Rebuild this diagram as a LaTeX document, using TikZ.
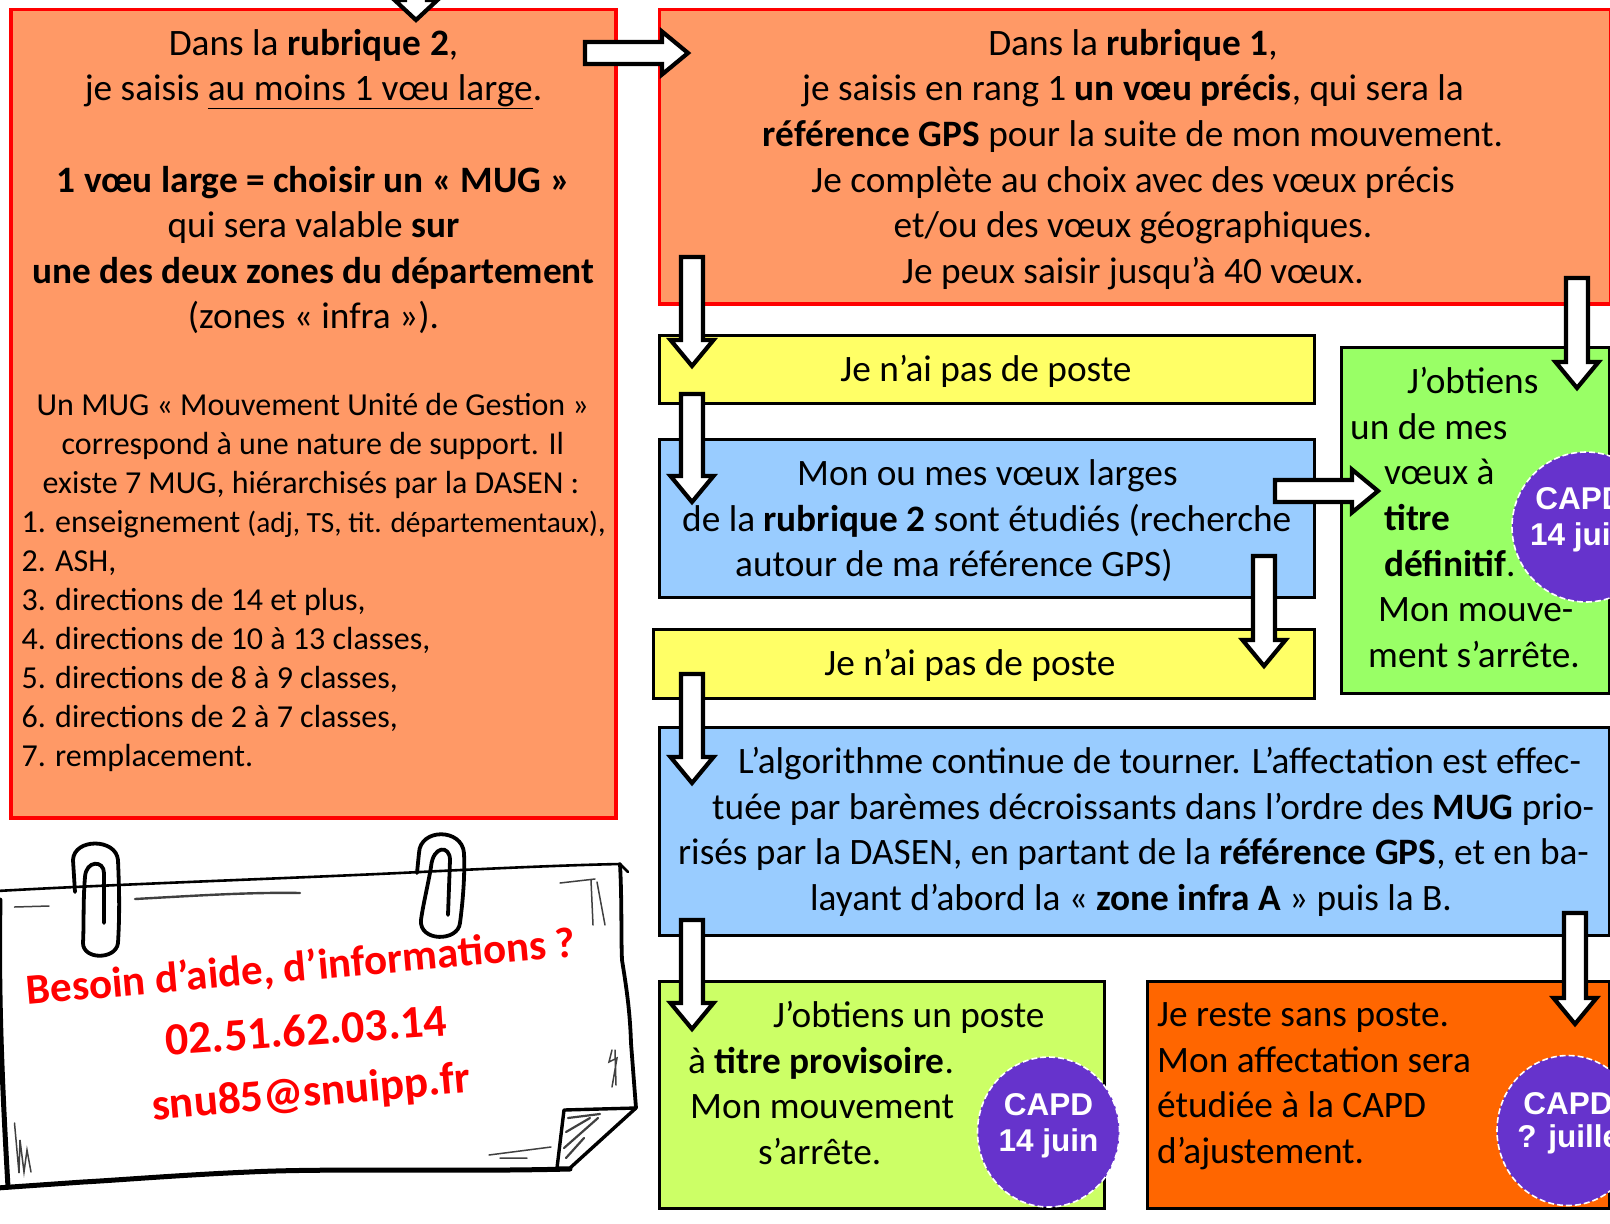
\documentclass[tikz,border=0pt]{standalone}
\usepackage{fontspec}
\setmainfont{Carlito}
\newfontfamily\capdfont{Liberation Sans}
\usetikzlibrary{calc}
\definecolor{cOrange}{HTML}{FF9966}
\definecolor{cYellow}{HTML}{FFFF66}
\definecolor{cBlue}{HTML}{99CCFF}
\definecolor{cGreen}{HTML}{99FF66}
\definecolor{cLime}{HTML}{CCFF66}
\definecolor{cDeep}{HTML}{FF6600}
\definecolor{cPurple}{HTML}{6633CC}
\definecolor{cRed}{HTML}{FF0000}
\tikzset{
  redbox/.style={draw=cRed,fill=cOrange,line width=3.5pt},
  blackbox/.style={draw=black,line width=3pt},
  bigtxt/.style={anchor=north,inner sep=0pt,yshift=31.92pt,font=\fontsize{37.3}{45.6}\selectfont},
  smalltxt/.style={anchor=north,inner sep=0pt,yshift=27.3pt,font=\fontsize{32}{39}\selectfont},
  blockarrow/.style={draw=black,fill=white,line width=4.2pt,miter limit=10},
  capd/.style={draw=white,fill=cPurple,line width=1.6pt,dash pattern=on 6pt off 3pt},
  capdtxt/.style={inner sep=0pt,align=center,text=white,font=\capdfont\bfseries\fontsize{31.5}{36}\selectfont},
  hand/.style={text=cRed,inner sep=0pt,font=\bfseries\fontsize{43}{45}\selectfont},
  sketch/.style={draw=black,line width=3.6pt,line cap=round,line join=round},
  hatch/.style={draw=black!75,line width=1.5pt,line cap=round},
  clipline/.style={draw=black,line width=3.8pt,line cap=round,line join=round}
}
\newcommand{\blockarrow}[3][26pt]{%
  \draw[blockarrow]
    ($(#2)!11pt!90:(#3)$) --
    ($(#3)!#1!(#2)!11pt!-90:(#2)$) --
    ($(#3)!#1!(#2)!21.5pt!-90:(#2)$) --
    (#3) --
    ($(#3)!#1!(#2)!21.5pt!90:(#2)$) --
    ($(#3)!#1!(#2)!11pt!90:(#2)$) --
    ($(#2)!11pt!-90:(#3)$) -- cycle;}
\newcommand{\listnum}[1]{#1.\kern2pt\ }
\begin{document}
\begin{tikzpicture}[x=1pt,y=-1pt]
\useasboundingbox (0,0) rectangle (1610,1224);
\clip (0,0) rectangle (1610,1224);
\fill[white] (0,0) rectangle (1610,1224);

% boxes
\draw[redbox] (11,9.5) rectangle (616,818);
\draw[redbox] (659.5,9.5) rectangle (1611,304);
\draw[blackbox,fill=cYellow] (659.5,335) rectangle (1314,403);
\draw[blackbox,fill=cBlue] (659.5,439) rectangle (1314,597);
\draw[blackbox,fill=cYellow] (653.5,629) rectangle (1314,698);
\draw[blackbox,fill=cGreen] (1341,347) rectangle (1609,693);
\draw[blackbox,fill=cBlue] (659.5,727) rectangle (1609,935);
\draw[blackbox,fill=cLime] (659.5,981) rectangle (1104,1208);
\draw[blackbox,fill=cDeep] (1147,981) rectangle (1609,1208);

% note paper
\fill[white]
  (-3,891) .. controls (120,884) and (300,878) .. (420,872)
  .. controls (500,868) and (570,865) .. (620,864)
  .. controls (622,900) and (621,940) .. (622,960)
  .. controls (626,985) and (630,1010) .. (631,1043)
  -- (636,1108) -- (564,1110) -- (570,1168)
  .. controls (450,1172) and (330,1168) .. (249,1172)
  .. controls (180,1175) and (120,1180) .. (83,1182)
  -- (-3,1188) -- cycle;
\draw[sketch,line width=2.6pt] (-3,891) .. controls (120,884) and (300,878) .. (420,872)
  .. controls (500,868) and (570,865) .. (620,864) -- (628,872);
\draw[sketch,line width=3.8pt] (620,864) .. controls (622,900) and (621,940) .. (622,960)
  .. controls (626,985) and (630,1010) .. (631,1043) -- (636,1108);
\draw[sketch,line width=5pt] (570,1169) .. controls (450,1172) and (330,1168) .. (249,1172)
  .. controls (180,1175) and (120,1180) .. (83,1182) -- (-3,1188);
\draw[sketch,line width=5pt] (0,900) .. controls (-2,1000) and (3,1100) .. (8,1187);
\draw[sketch,fill=white,line width=3.4pt] (636,1108) -- (564,1110) -- (557,1168) -- (570,1168) -- cycle;
\draw[hatch] (14.5,907) -- (49,906);
\draw[hatch,line width=2.4pt] (135,899) .. controls (190,896) and (250,892) .. (300,893);
\draw[hatch] (560,883) -- (595,879) (591,880) -- (593,925) (597,882) -- (605,925);
\draw[hatch] (612,1050) -- (609,1062) -- (617,1058) -- (612,1087) (615,1050) -- (616,1085);
\draw[hatch] (14.5,1123) -- (19,1173) -- (20,1140) -- (24,1172) -- (27,1150) -- (31,1172);
\draw[hatch] (489,1155) -- (551,1147) (500,1158) -- (527,1158);
\draw[hatch,line width=2.2pt] (568,1118) -- (600,1114) (566,1132) -- (590,1118) (564,1148) -- (598,1118) (566,1158) -- (584,1138);

% paper clips
\draw[clipline]
  (104,923) -- (104,873) .. controls (104,860) and (86,860) .. (85,877)
  .. controls (83,900) and (84,925) .. (83,943)
  .. controls (83,960) and (116,960) .. (118,943)
  .. controls (120,910) and (119,885) .. (118,860)
  .. controls (116,838) and (74,838) .. (73,860) -- (75,892);
\draw[clipline]
  (448,915) -- (450,860) .. controls (450,845) and (433,845) .. (431,867)
  .. controls (428,885) and (423,905) .. (421,920)
  .. controls (419,942) and (458,942) .. (460,923)
  .. controls (463,900) and (465,875) .. (464,853)
  .. controls (462,828) and (420,828) .. (419,853) -- (417,873);

% note text
\node[hand,rotate=5] (noteA) at (301,968) {Besoin d’aide, d’informations ?};
\node[hand,rotate=4,font=\bfseries\fontsize{46}{48}\selectfont] (noteB) at (306,1030) {02.51.62.03.14};
\node[hand,rotate=5,font=\bfseries\fontsize{45}{47}\selectfont] (noteC) at (311,1094) {snu85@snuipp.fr};

% big text
\node[bigtxt,align=center] (leftBig) at (313.5,55) {\strut Dans la \textbf{rubrique 2},\\
je saisis \underline{au moins 1 vœu large}.\\[45.6pt]
\textbf{1 vœu large = choisir un « MUG »}\\
qui sera valable \textbf{sur}\\
\textbf{une des deux zones du département}\\
(zones « infra »).};
\node[smalltxt,align=left,anchor=north west] (leftSmall) at (21.5,415) {\strut\hspace*{15pt}Un MUG « Mouvement Unité de Gestion »\\
\hspace*{40pt}correspond à une nature de support. Il\\
\hspace*{21pt}existe 7 MUG, hiérarchisés par la DASEN :\\
\listnum{1}enseignement {\fontsize{29.3}{39}\selectfont (adj, TS, tit. départementaux)},\\
\listnum{2}ASH,\\
\listnum{3}directions de 14 et plus,\\
\listnum{4}directions de 10 à 13 classes,\\
\listnum{5}directions de 8 à 9 classes,\\
\listnum{6}directions de 2 à 7 classes,\\
\listnum{7}remplacement.};
\node[bigtxt,align=center] (rightBig) at (1133,55) {\strut Dans la \textbf{rubrique 1},\\
je saisis en rang 1 \textbf{un vœu précis}, qui sera la\\
\textbf{référence GPS} pour la suite de mon mouvement.\\
Je complète au choix avec des vœux précis\\
et/ou des vœux géographiques.\\
Je peux saisir jusqu’à 40 vœux.};
\node[bigtxt] (yellowA) at (986,381) {\strut Je n’ai pas de poste};
\node[bigtxt] (yellowB) at (970,675) {\strut Je n’ai pas de poste};
\node[bigtxt,align=left,anchor=north west] (blueA) at (682,485.5) {\strut\hspace*{115pt}Mon ou mes vœux larges\\
de la \textbf{rubrique 2} sont étudiés (recherche\\
\hspace*{53pt}autour de ma référence GPS)};
\node[bigtxt,align=left,anchor=north west] (greenT) at (1350,393.5) {\strut\hspace*{57pt}J’obtiens\\
un de mes\\
\hspace*{34pt}vœux à\\
\hspace*{34pt}\textbf{titre}\\
\hspace*{34pt}\textbf{définitif}.\\
\hspace*{28pt}Mon mouve-\\
\hspace*{18pt}ment s’arrête.};
\node[bigtxt,align=left,anchor=north west] (blueB) at (678,773.5) {\strut\hspace*{60pt}L’algorithme continue de tourner. L’affectation est effec-\\
\hspace*{34pt}tuée par barèmes décroissants dans l’ordre des \textbf{MUG} prio-\\
risés par la DASEN, en partant de la \textbf{référence GPS}, et en ba-\\
\hspace*{132pt}layant d’abord la « \textbf{zone infra A} » puis la B.};
\node[bigtxt,align=left,anchor=north west] (limeT) at (688,1027.5) {\strut\hspace*{85pt}J’obtiens un poste\\
à \textbf{titre provisoire}.\\
\hspace*{2pt}Mon mouvement\\
\hspace*{70pt}s’arrête.};
\node[bigtxt,align=left,anchor=north west] (deepT) at (1157,1026.5) {\strut Je reste sans poste.\\
Mon affectation sera\\
étudiée à la CAPD\\
d’ajustement.};

% CAPD badges
\draw[capd] (1586,527) ellipse [x radius=74pt,y radius=75pt];
\node[capdtxt] (capdA) at (1580,520) {CAPD\\14 juin};
\draw[capd] (1048.5,1132) ellipse [x radius=71pt,y radius=75pt];
\node[capdtxt] (capdB) at (1048.5,1126) {CAPD\\14 juin};
\draw[capd] (1568,1130.5) ellipse [x radius=71pt,y radius=75pt];
\node[capdtxt] (capdC) at (1568,1123) {CAPD\\[-3pt]\hspace*{12pt}? juillet};

% block arrows
\coordinate (a1s) at (416,-40); \coordinate (a1t) at (416,20);
\coordinate (a2s) at (585,53); \coordinate (a2t) at (688,53);
\coordinate (a3s) at (692,257); \coordinate (a3t) at (692,366);
\coordinate (a4s) at (692,394); \coordinate (a4t) at (692,502);
\coordinate (a5s) at (1577,278); \coordinate (a5t) at (1577,388);
\coordinate (a6s) at (1275,491); \coordinate (a6t) at (1378,491);
\coordinate (a7s) at (1264,556); \coordinate (a7t) at (1264,666);
\coordinate (a8s) at (692,674); \coordinate (a8t) at (692,783);
\coordinate (a9s) at (692,920); \coordinate (a9t) at (692,1029);
\coordinate (a10s) at (1575,913); \coordinate (a10t) at (1575,1024);
\blockarrow[20pt]{a1s}{a1t}
\blockarrow{a2s}{a2t}
\blockarrow{a3s}{a3t}
\blockarrow{a4s}{a4t}
\blockarrow{a5s}{a5t}
\blockarrow{a6s}{a6t}
\blockarrow{a7s}{a7t}
\blockarrow{a8s}{a8t}
\blockarrow{a9s}{a9t}
\blockarrow{a10s}{a10t}
\end{tikzpicture}
\end{document}
